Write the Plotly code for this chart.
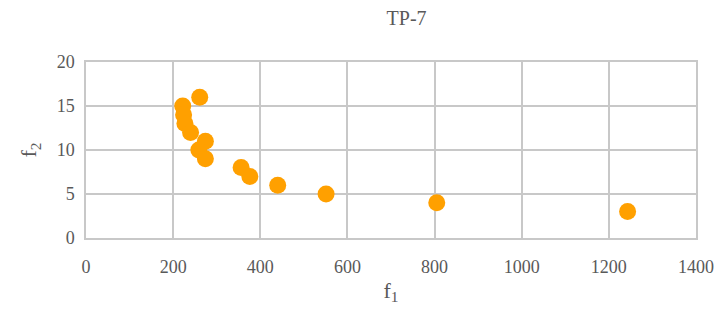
import plotly.graph_objects as go

f1 = [261, 222, 224, 227, 240, 274, 259, 274, 356, 376, 440, 551, 805, 1243]
f2 = [16, 15, 14, 13, 12, 11, 10, 9, 8, 7, 6, 5, 4, 3]

title_text = "TP-7"
x_title = "f<sub>1</sub>"
y_title = "f<sub>2</sub>"

font_fam = "Liberation Serif, Times New Roman, serif"
gray = "#595959"
grid = "#c8c8c8"

fig = go.Figure(go.Scatter(
    x=f1, y=f2, mode="markers",
    marker=dict(color="#FFA000", size=17, line=dict(width=0)),
))

fig.update_layout(
    width=726, height=320,
    margin=dict(l=86, r=22, t=62, b=82),
    paper_bgcolor="white", plot_bgcolor="white",
    showlegend=False,
    font=dict(family=font_fam, color=gray, size=18),
    title=dict(text=title_text, x=0.56, xanchor="center", y=0.945, yanchor="middle",
               font=dict(family=font_fam, size=20, color=gray)),
)
fig.update_xaxes(
    range=[0, 1400], dtick=200, tick0=0,
    showgrid=True, gridcolor=grid, gridwidth=1.5,
    showline=True, linecolor=grid, linewidth=1.5, mirror=True,
    zeroline=False, ticks="", ticklabelstandoff=12,
    title=dict(text=x_title, font=dict(size=22, family=font_fam, color=gray), standoff=6),
)
fig.update_yaxes(
    range=[0, 20], dtick=5, tick0=0,
    showgrid=True, gridcolor=grid, gridwidth=1.5,
    showline=True, linecolor=grid, linewidth=1.5, mirror=True,
    zeroline=False, ticks="", ticklabelstandoff=6,
    title=dict(text=y_title, font=dict(size=22, family=font_fam, color=gray), standoff=14),
)

fig.write_html("out.html")
